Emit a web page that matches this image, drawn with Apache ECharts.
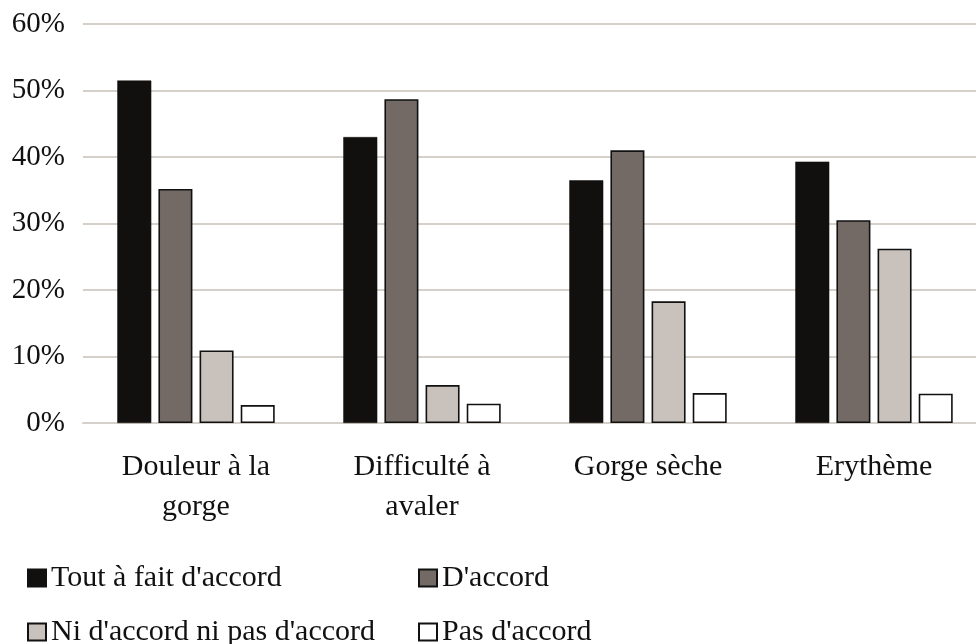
<!DOCTYPE html>
<html>
<head>
<meta charset="utf-8">
<script src="https://cdn.jsdelivr.net/npm/echarts@6/dist/echarts.min.js"></script>
<style>
html,body{margin:0;padding:0;background:#fff;}
#chart{width:976px;height:644px;}
</style>
</head>
<body>
<div id="chart"></div>
<script>
const categories = ["Douleur à la\ngorge", "Difficulté à\navaler", "Gorge sèche", "Erythème"];
const seriesNames = ["Tout à fait d'accord", "D'accord", "Ni d'accord ni pas d'accord", "Pas d'accord"];
const toutAFait = [51.5, 43.0, 36.5, 39.3];
const dAccord = [35.2, 48.7, 41.0, 30.5];
const niNi = [10.9, 5.7, 18.3, 26.2];
const pasDAccord = [2.7, 2.9, 4.5, 4.4];
const yTicks = [0, 10, 20, 30, 40, 50, 60];

const colors = ['#12100e', '#736a65', '#c9c2bc', '#ffffff'];
const values = [toutAFait, dAccord, niNi, pasDAccord];
const font = 'Liberation Serif, Times New Roman, serif';

const chart = echarts.init(document.getElementById('chart'));

const series = seriesNames.map((name, i) => ({
  name: name,
  type: 'bar',
  data: values[i],
  barWidth: 34,
  barGap: '21%',
  itemStyle: {
    color: colors[i],
    borderColor: '#111',
    borderWidth: i === 0 ? 0.5 : 1.6
  }
}));

const legendPos = [
  {left: 27, top: 563},
  {left: 418, top: 563},
  {left: 27, top: 617},
  {left: 418, top: 617}
];

const legends = seriesNames.map((name, i) => ({
  data: [name],
  left: legendPos[i].left,
  top: legendPos[i].top,
  orient: 'horizontal',
  icon: 'rect',
  itemWidth: 18,
  itemHeight: 17,
  itemGap: 0,
  padding: 0,
  textStyle: {fontFamily: font, fontSize: 30, color: '#111'},
  selectedMode: false
}));

chart.setOption({
  animation: false,
  backgroundColor: '#fff',
  grid: {left: 83, width: 904, top: 24, bottom: 221, containLabel: false, outerBoundsMode: 'none'},
  legend: legends,
  xAxis: {
    type: 'category',
    data: categories,
    axisLine: {show: true, lineStyle: {color: '#d6d0ca', width: 2}},
    axisTick: {show: false},
    axisLabel: {
      fontFamily: font,
      fontSize: 30,
      color: '#111',
      margin: 24,
      lineHeight: 40,
      interval: 0
    }
  },
  yAxis: {
    type: 'value',
    min: yTicks[0],
    max: yTicks[yTicks.length - 1],
    interval: 10,
    axisLine: {show: false},
    axisTick: {show: false},
    splitLine: {lineStyle: {color: '#d6d0ca', width: 2}},
    axisLabel: {
      fontFamily: font,
      fontSize: 29,
      color: '#111',
      margin: 18,
      formatter: '{value}%'
    }
  },
  series: series
});
</script>
</body>
</html>
